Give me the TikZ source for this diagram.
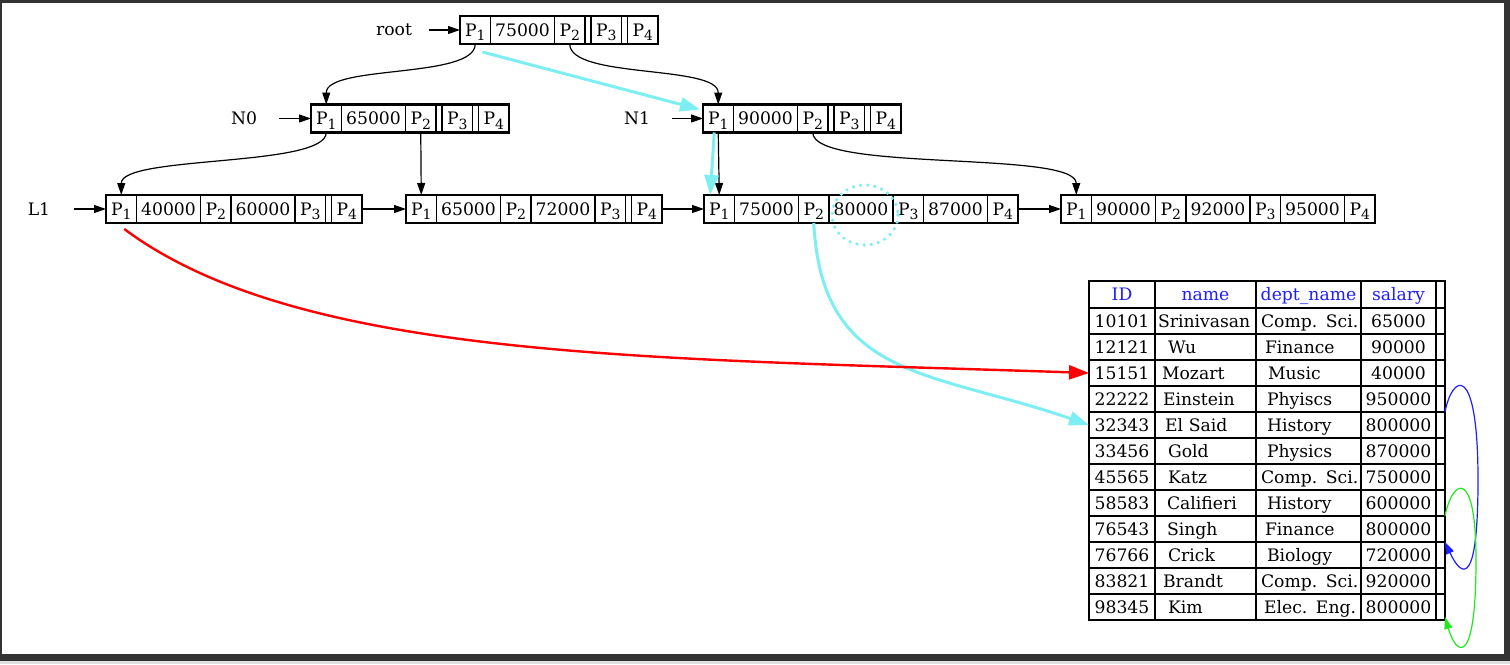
\documentclass[tikz,border=0pt]{standalone}
\usepackage{fontspec}
\setmainfont{DejaVu Serif}
\usetikzlibrary{positioning,arrows.meta}
\definecolor{frame}{RGB}{51,51,51}
\definecolor{hilite}{RGB}{125,238,242}
\definecolor{hdrblue}{RGB}{30,30,255}
\definecolor{loopgreen}{RGB}{30,235,30}
\newcommand\pk[1]{P\raisebox{-0.5ex}{\fontsize{7}{8}\selectfont #1}}
\tikzset{
  pcell/.style={draw, rectangle, inner sep=0pt, outer sep=0pt, line width=0.6pt, minimum width=15.25pt, minimum height=14pt, text height=6.3pt, text depth=0pt},
  kcell/.style={pcell, minimum width=32pt},
  ecell/.style={pcell, minimum width=3pt},
  rec/.style={line width=1.2pt},
  lbl/.style={rectangle, inner sep=0pt, minimum width=35pt, minimum height=14pt},
  tree/.style={->, line width=0.6pt},
  hicyan/.style={->, >={Triangle[length=10pt,width=7pt]}, draw=hilite, line width=1.5pt},
  redarrow/.style={->, >={Triangle[length=10pt,width=7pt]}, draw=red, line width=1.2pt},
  tcell/.style={draw, rectangle, inner sep=0pt, outer sep=0pt, line width=0.6pt, minimum height=13pt, text height=6.3pt, text depth=0pt},
  hcell/.style={tcell, minimum height=13.5pt, text=hdrblue}
}
\begin{document}
\begin{tikzpicture}[x=0.5pt, y=-0.5pt, >={Triangle[length=6pt,width=4pt]}, font=\fontsize{8.6}{10}\selectfont]
\useasboundingbox (0,0) rectangle (1510,664);
\fill[frame] (0,0) rectangle (1510,664);
\fill[white] (2,3) rectangle (1504,654);
\fill[black!12] (0,661) rectangle (1510,664);

% root and inner nodes
\node[pcell] (rp1) at (475.25,30) {\pk{1}};
\node[kcell, right=0pt of rp1] (rk1) {75000};
\node[pcell, right=0pt of rk1] (rp2) {\pk{2}};
\node[ecell, right=0pt of rp2] (rk2) {};
\node[pcell, right=0pt of rk2] (rp3) {\pk{3}};
\node[ecell, right=0pt of rp3] (rk3) {};
\node[pcell, right=0pt of rk3] (rp4) {\pk{4}};
\draw[rec] (rp1.north west) rectangle (rp4.south east);

\node[pcell] (n0p1) at (326.25,118.5) {\pk{1}};
\node[kcell, right=0pt of n0p1] (n0k1) {65000};
\node[pcell, right=0pt of n0k1] (n0p2) {\pk{2}};
\node[ecell, right=0pt of n0p2] (n0k2) {};
\node[pcell, right=0pt of n0k2] (n0p3) {\pk{3}};
\node[ecell, right=0pt of n0p3] (n0k3) {};
\node[pcell, right=0pt of n0k3] (n0p4) {\pk{4}};
\draw[rec] (n0p1.north west) rectangle (n0p4.south east);

\node[pcell] (n1p1) at (718.25,118.5) {\pk{1}};
\node[kcell, right=0pt of n1p1] (n1k1) {90000};
\node[pcell, right=0pt of n1k1] (n1p2) {\pk{2}};
\node[ecell, right=0pt of n1p2] (n1k2) {};
\node[pcell, right=0pt of n1k2] (n1p3) {\pk{3}};
\node[ecell, right=0pt of n1p3] (n1k3) {};
\node[pcell, right=0pt of n1k3] (n1p4) {\pk{4}};
\draw[rec] (n1p1.north west) rectangle (n1p4.south east);

% leaves
\node[pcell] (l1p1) at (121.25,209) {\pk{1}};
\node[kcell, right=0pt of l1p1] (l1k1) {40000};
\node[pcell, right=0pt of l1k1] (l1p2) {\pk{2}};
\node[kcell, right=0pt of l1p2] (l1k2) {60000};
\node[pcell, right=0pt of l1k2] (l1p3) {\pk{3}};
\node[ecell, right=0pt of l1p3] (l1k3) {};
\node[pcell, right=0pt of l1k3] (l1p4) {\pk{4}};
\draw[rec] (l1p1.north west) rectangle (l1p4.south east);

\node[pcell] (l2p1) at (421.25,209) {\pk{1}};
\node[kcell, right=0pt of l2p1] (l2k1) {65000};
\node[pcell, right=0pt of l2k1] (l2p2) {\pk{2}};
\node[kcell, right=0pt of l2p2] (l2k2) {72000};
\node[pcell, right=0pt of l2k2] (l2p3) {\pk{3}};
\node[ecell, right=0pt of l2p3] (l2k3) {};
\node[pcell, right=0pt of l2k3] (l2p4) {\pk{4}};
\draw[rec] (l2p1.north west) rectangle (l2p4.south east);

\node[pcell] (l3p1) at (719.25,209) {\pk{1}};
\node[kcell, right=0pt of l3p1] (l3k1) {75000};
\node[pcell, right=0pt of l3k1] (l3p2) {\pk{2}};
\node[kcell, right=0pt of l3p2] (l3k2) {80000};
\node[pcell, right=0pt of l3k2] (l3p3) {\pk{3}};
\node[kcell, right=0pt of l3p3] (l3k3) {87000};
\node[pcell, right=0pt of l3k3] (l3p4) {\pk{4}};
\draw[rec] (l3p1.north west) rectangle (l3p4.south east);

\node[pcell] (l4p1) at (1076.25,209) {\pk{1}};
\node[kcell, right=0pt of l4p1] (l4k1) {90000};
\node[pcell, right=0pt of l4k1] (l4p2) {\pk{2}};
\node[kcell, right=0pt of l4p2] (l4k2) {92000};
\node[pcell, right=0pt of l4k2] (l4p3) {\pk{3}};
\node[kcell, right=0pt of l4p3] (l4k3) {95000};
\node[pcell, right=0pt of l4k3] (l4p4) {\pk{4}};
\draw[rec] (l4p1.north west) rectangle (l4p4.south east);

\node[lbl] (root) at (394,30) {root};
\node[lbl] (n0) at (244,118.5) {N0};
\node[lbl] (n1) at (637,118.5) {N1};
\node[lbl] (l1) at (39,209) {L1};

\draw[tree] (root) -- (rp1);
\draw[tree] (n0) -- (n0p1);
\draw[tree] (n1) -- (n1p1);
\draw[tree] (l1) -- (l1p1);
\draw[tree] (l1p4) -- (l2p1);
\draw[tree] (l2p4) -- (l3p1);
\draw[tree] (l3p4) -- (l4p1);

\draw[tree] (rp1.south) .. controls +(0,35) and +(0,-40) .. (n0p1.north);
\draw[tree] (rp2.south) .. controls +(0,35) and +(0,-40) .. (n1p1.north);
\draw[tree] (n0p1.south) .. controls +(0,35) and +(0,-40) .. (l1p1.north);
\draw[tree] (n0p2.south) -- (l2p1.north);
\draw[tree] (n1p1.south) -- (l3p1.north);
\draw[tree] (n1p2.south) .. controls +(0,40) and +(0,-45) .. (l4p1.north);

% instructor table
\node[hcell, minimum width=33pt] (hid) at (1122,294.5) {ID};
\node[hcell, minimum width=50.5pt, right=0pt of hid] (hnm) {name};
\node[hcell, minimum width=52.5pt, right=0pt of hnm] (hdp) {dept\_name};
\node[hcell, minimum width=37.5pt, right=0pt of hdp] (hsal) {salary};
\node[hcell, minimum width=4.5pt, right=0pt of hsal] (hx) {};

\foreach \tid/\tname/\tnoff/\tdept/\tdoff/\tsal [count=\i] in {
  10101/Srinivasan/1.5/Comp. Sci./2.5/65000,
  12121/Wu/6.5/Finance/4.5/90000,
  15151/Mozart/3.5/Music/6/40000,
  22222/Einstein/4/Phyiscs/5.5/950000,
  32343/El Said/5/History/5.5/800000,
  33456/Gold/6.5/Physics/5.5/870000,
  45565/Katz/6.5/Comp. Sci./2.5/750000,
  58583/Califieri/6/History/5.5/600000,
  76543/Singh/6/Finance/4.5/800000,
  76766/Crick/6.5/Biology/5.5/720000,
  83821/Brandt/4/Comp. Sci./2.5/920000,
  98345/Kim/6.5/Elec. Eng./4/800000}
{
  \node[tcell, minimum width=33pt] (id\i) at (1122,{295+26*\i}) {\tid};
  \node[tcell, text width=50.5pt, align=left, right=0pt of id\i] (nm\i) {\hspace*{\tnoff pt}\tname};
  \node[tcell, text width=52.5pt, align=left, right=0pt of nm\i] (dp\i) {\hspace*{\tdoff pt}\tdept};
  \node[tcell, minimum width=37.5pt, right=0pt of dp\i] (sal\i) {\tsal};
  \node[tcell, minimum width=4.5pt, right=0pt of sal\i] (x\i) {};
}
\draw[line width=1.1pt] (hid.north west) rectangle (x12.south east);

% search paths
\draw[hicyan] ([shift={(-4pt,-4pt)}]rp1.south east) -- ([shift={(-1.5pt,-2.5pt)}]n1p1.north west);
\draw[hicyan] ([xshift=-2pt]n1p1.south) -- ([xshift=-4.5pt]l3p1.north);
\draw[hicyan] (l3p2.south) .. controls (822,380) and (930,370) .. (id5.west);
\draw[hilite, line width=1.8pt, dash pattern=on 0pt off 3.6pt, line cap=round] ([shift={(2pt,-3pt)}]l3k2.center) ellipse [x radius=33, y radius=30];
\draw[redarrow] ([shift={(1.5pt,-3pt)}]l1p1.south) .. controls (300,360) and (650,358) .. (id3.west);

\draw[->, draw=hdrblue, line width=0.6pt] (x4.south east) .. controls (1452,375) and (1478,360) .. (1478,480) .. controls (1478,600) and (1458,570) .. (x9.south east);
\draw[->, draw=loopgreen, line width=0.6pt] (x8.south east) .. controls (1452,480) and (1476,465) .. (1476,560) .. controls (1476,670) and (1456,655) .. ([yshift=1.5pt]x12.south east);
\end{tikzpicture}
\end{document}
